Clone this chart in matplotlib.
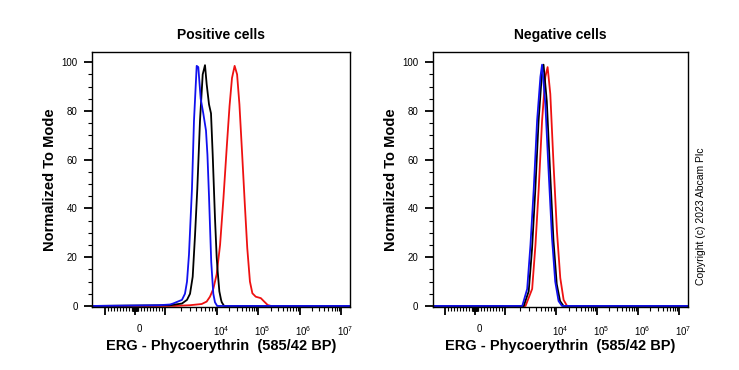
import numpy as np
import matplotlib
matplotlib.use("Agg")
import matplotlib.pyplot as plt
from matplotlib.transforms import ScaledTranslation

plt.rcParams['font.family'] = ['Liberation Sans', 'DejaVu Sans']
plt.rcParams['mathtext.fontset'] = 'custom'
plt.rcParams['mathtext.rm'] = 'Liberation Sans'
plt.rcParams['mathtext.it'] = 'Liberation Sans'

# fluorescence values (PE channel) and % of mode
# positive cells
pos_red_x = [-1800, 1500, 3000, 5080, 6330, 7330, 8490, 9860, 11860, 14300, 17360,
             20120, 23070, 26730, 30650, 34920, 40740, 47210, 54080, 62740, 71920,
             86760, 115290, 139000, 168700, 203700, 2e7]
pos_red_y = [0, 0, 0.3, 0.8, 1.8, 3.8, 7, 13, 25, 44, 66,
             82, 93.5, 98.5, 95, 82.7, 62, 41.6, 23.7, 10, 5.2,
             3.8, 3.2, 1.8, 0.4, 0, 0]
pos_black_x = [-1800, 1250, 2120, 2650, 3030, 3410, 3780, 4180, 4710, 5310, 5880,
               6330, 7020, 7670, 8270, 9150, 9860, 10410, 11400, 12550, 13060, 14890, 2e7]
pos_black_y = [0, 0.3, 1, 2.5, 5, 12, 29, 48, 76, 95, 98.8,
               91, 82.7, 79, 62, 36, 20, 14, 6, 2.5, 1.5, 0, 0]
pos_blue_x = [-1800, 800, 1250, 1430, 2120, 2420, 2650, 2890, 3300, 3610, 4070, 4370,
              4860, 5450, 6140, 6550, 7020, 7330, 7750, 8490, 9150, 10100, 2e7]
pos_blue_y = [0, 0.3, 0.6, 1, 2.5, 5, 10, 21, 48, 76, 98.5, 98,
              85, 79, 72, 62, 45, 33, 18, 5, 1.5, 0, 0]

# negative cells
neg_red_x = [-1800, 2535, 3410, 3950, 4570, 5310, 6140, 6800, 7670, 8870, 10410,
             12550, 15150, 18370, 2e7]
neg_red_y = [0, 0, 7, 25, 48, 76, 94, 98, 87, 58, 30.6, 11.5, 2.5, 0, 0]
neg_black_x = [-1800, 2340, 2920, 3380, 3910, 4545, 5260, 5670, 6560, 7600, 8830,
               10290, 12410, 15070, 2e7]
neg_black_y = [0, 0, 6, 23, 47, 76, 95, 99, 84, 55, 27, 9, 2, 0, 0]
neg_blue_x = [-1800, 2190, 2730, 3160, 3660, 4250, 4930, 5310, 6140, 7120, 8270,
              9560, 11400, 13830, 2e7]
neg_blue_y = [0, 0, 7, 25, 48, 76, 94, 99, 83, 55, 28, 10, 2, 0, 0]

titles = ['Positive cells', 'Negative cells']
xlabel = 'ERG - Phycoerythrin  (585/42 BP)'
ylabel = 'Normalized To Mode'


# biexponential-like display scale (linear near 0, log above)
def fwd(x):
    x = np.asarray(x, float)
    a = np.abs(x)
    with np.errstate(divide='ignore', invalid='ignore'):
        lin = a * 30 / 1000
        mid = 30 + 52 * np.log10(np.maximum(a, 1e-9) / 1000)
        hi = 82 + 41.3 * np.log10(np.maximum(a, 1e-9) / 1e4)
    y = np.where(a <= 1000, lin, np.where(a <= 1e4, mid, hi))
    return np.sign(x) * y


def inv(y):
    y = np.asarray(y, float)
    a = np.abs(y)
    with np.errstate(over='ignore', invalid='ignore'):
        lin = a / 30 * 1000
        mid = 1000 * 10 ** np.clip((a - 30) / 52, -20, 20)
        hi = 1e4 * 10 ** np.clip((a - 82) / 41.3, -20, 20)
    x = np.where(a <= 30, lin, np.where(a <= 82, mid, hi))
    return np.sign(y) * x


fig = plt.figure(figsize=(7.39, 3.70), dpi=100)
ax1 = fig.add_axes([0.1249, 0.1711, 0.3487, 0.6884])
ax2 = fig.add_axes([0.5855, 0.1711, 0.3455, 0.6884])

red = '#ee1111'
blue = '#1111ee'
lw = 1.3

ax1.plot(pos_red_x, pos_red_y, color=red, lw=lw)
ax1.plot(pos_black_x, pos_black_y, color='black', lw=lw)
ax1.plot(pos_blue_x, pos_blue_y, color=blue, lw=lw)

ax2.plot(neg_red_x, neg_red_y, color=red, lw=lw)
ax2.plot(neg_black_x, neg_black_y, color='black', lw=lw)
ax2.plot(neg_blue_x, neg_blue_y, color=blue, lw=lw)

major = [-1000, 0, 1000, 1e4, 1e5, 1e6, 1e7]
labels = ['', '0', '', '$10^{4}$', '$10^{5}$', '$10^{6}$', '$10^{7}$']
minor = []
for s in [-1, 1]:
    minor += [s * v for v in range(10, 100, 10)]
    minor += [s * v for v in range(100, 1000, 100)]
minor += [-v * 1000 for v in range(2, 10) if v * 1000 < 1750]
for d in [1e3, 1e4, 1e5, 1e6]:
    minor += [m * d for m in range(2, 10)]

offset = ScaledTranslation(4 / 100, 0, fig.dpi_scale_trans)

for ax, t in zip([ax1, ax2], titles):
    ax.set_xscale('function', functions=(fwd, inv))
    ax.set_xlim(-1754, 1.66e7)
    ax.set_ylim(-0.3, 104.2)
    ax.set_xticks(major)
    ax.set_xticklabels(labels)
    ax.set_xticks(minor, minor=True)
    ax.set_yticks([0, 20, 40, 60, 80, 100])
    ax.set_yticks(np.arange(0, 101, 5), minor=True)
    ax.tick_params(which='major', direction='out', length=5.5, width=1.3,
                   labelsize=7, pad=5)
    ax.tick_params(which='minor', direction='out', length=3, width=0.8)
    ax.tick_params(axis='x', which='major', pad=7)
    for lab in ax.get_xticklabels():
        lab.set_transform(lab.get_transform() + offset)
    for sp in ax.spines.values():
        sp.set_linewidth(1.0)
    ax.set_title(t, fontsize=10, fontweight='bold', pad=9)
    ax.set_xlabel(xlabel, fontsize=10.5, fontweight='bold', labelpad=1)
    ax.set_ylabel(ylabel, fontsize=10.5, fontweight='bold', labelpad=3)

fig.text(701 / 739, 0.416, 'Copyright (c) 2023 Abcam Plc', rotation=90,
         fontsize=7.5, ha='center', va='center')

fig.savefig('out.png', dpi=100)
